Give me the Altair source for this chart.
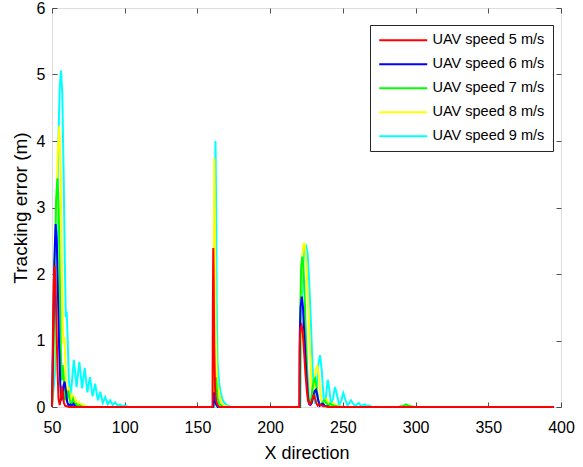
import altair as alt
import pandas as pd

FONT = "Liberation Sans, Arial, sans-serif"

SERIES = ["UAV speed 5 m/s", "UAV speed 6 m/s", "UAV speed 7 m/s",
          "UAV speed 8 m/s", "UAV speed 9 m/s"]
COLORS = ["#FF0000", "#0000FF", "#00FF00", "#FFFF00", "#00FFFF"]

X_TICKS = [50, 100, 150, 200, 250, 300, 350, 400]
Y_TICKS = [0, 1, 2, 3, 4, 5, 6]

RED_X = [50, 50.6, 51.2, 51.8, 52.4, 53.1, 53.8, 54.5, 55.3, 56.0,
         56.7, 57.4, 58.2, 59.0, 60.0, 62.0,
         160.4, 160.6, 160.9, 161.2, 161.6, 162.1, 162.8, 163.8, 165.0,
         220.1, 220.3, 220.8, 221.7, 222.5, 223.4, 224.3, 225.2, 226.0, 226.8,
         227.6, 228.5, 229.4, 230.2, 231.0, 231.9, 232.8, 233.8, 235.0, 236.5,
         238.0, 240.0, 395.0]
RED_Y = [0, 1.0, 1.9, 2.13, 1.85, 1.2, 0.55, 0.12, 0.03, 0.12,
         0.31, 0.22, 0.06, 0.02, 0.01, 0,
         0, 1.5, 2.39, 1.9, 0.9, 0.3, 0.1, 0.03, 0,
         0, 0.9, 1.18, 1.23, 1.1, 0.8, 0.5, 0.25, 0.1, 0.05,
         0.04, 0.08, 0.15, 0.18, 0.12, 0.05, 0.02, 0.04, 0.03, 0.01,
         0.01, 0, 0]

BLUE_X = [50, 50.8, 51.6, 52.5, 53.3, 54.1, 54.9, 55.7, 56.4, 57.1,
          57.9, 58.7, 59.5, 60.4, 61.4, 62.5, 63.6, 64.8, 66.0, 67.5,
          160.8, 161.1, 161.5, 161.9, 162.4, 163.0, 164.0,
          220.2, 220.4, 220.9, 221.8, 222.6, 223.5, 224.4, 225.3, 226.1, 226.9,
          227.7, 228.6, 229.6, 230.6, 231.5, 232.4, 233.3, 234.2, 235.2, 236.3,
          237.5, 239.0, 241.0, 395.0]
BLUE_Y = [0, 1.0, 2.2, 2.75, 2.5, 1.7, 0.9, 0.35, 0.1, 0.15,
          0.32, 0.38, 0.25, 0.08, 0.02, 0.04, 0.02, 0.05, 0.01, 0,
          0, 0.1, 0.22, 0.15, 0.07, 0.03, 0,
          0, 1.1, 1.5, 1.66, 1.5, 1.1, 0.7, 0.35, 0.12, 0.04,
          0.03, 0.06, 0.15, 0.24, 0.26, 0.18, 0.08, 0.02, 0.04, 0.05,
          0.02, 0.01, 0, 0]

GREEN_X = [50, 50.8, 51.8, 52.8, 53.7, 54.6, 55.4, 56.1, 56.7, 57.3,
           58.1, 59.0, 60.1, 61.2, 62.3, 63.4, 64.5, 65.6, 66.7, 67.8,
           69.0, 70.2, 72.0,
           161.0, 161.5, 162.0, 162.6, 163.2, 164.0, 165.0, 166.5, 168.0,
           220.5, 220.8, 221.3, 222.1, 222.9, 223.8, 224.7, 225.6, 226.5, 227.4,
           228.2, 229.1, 230.0, 230.9, 231.9, 232.9, 233.9, 235.0, 236.2, 237.5,
           238.8, 240.0, 241.2, 242.5, 244.0, 246.0, 250.0,
           288.0, 291.0, 293.5, 296.0, 299.0, 395.0]
GREEN_Y = [0, 0.6, 2.0, 3.1, 3.44, 3.0, 1.9, 0.8, 0.4, 0.63,
           0.45, 0.12, 0.1, 0.25, 0.08, 0.04, 0.12, 0.03, 0.05, 0.01,
           0.03, 0.01, 0,
           0, 0.05, 0.3, 0.45, 0.3, 0.12, 0.05, 0.02, 0,
           0, 1.5, 2.1, 2.26, 2.1, 1.6, 1.0, 0.5, 0.15, 0.04,
           0.1, 0.28, 0.4, 0.43, 0.3, 0.12, 0.04, 0.03, 0.08, 0.1,
           0.06, 0.02, 0.05, 0.03, 0.02, 0.01, 0,
           0, 0.01, 0.04, 0.01, 0, 0]

YELLOW_X = [50, 51.5, 52.8, 53.9, 55.0, 56.0, 56.8, 57.5, 58.0, 58.6,
            59.4, 60.3, 61.5, 62.6, 63.8, 65.0, 66.2, 67.5, 68.7, 70.0,
            71.5, 73.0, 75.0,
            160.9, 161.2, 161.6, 162.0, 162.5, 163.2, 164.0, 165.0, 166.0, 167.0,
            168.5, 170.0, 172.0,
            220.6, 221.0, 221.8, 222.7, 223.5, 224.3, 225.2, 226.2, 227.3, 228.3,
            229.3, 230.2, 231.2, 232.5, 233.8, 235.0, 236.3, 237.6, 239.0, 240.5,
            242.0, 243.5, 245.0, 247.0, 250.0,
            288.0, 291.0, 293.5, 296.0, 299.0, 395.0]
YELLOW_Y = [0, 0.8, 2.6, 3.8, 4.22, 3.5, 2.2, 1.2, 0.95, 1.05,
            0.5, 0.1, 0.3, 0.08, 0.2, 0.04, 0.12, 0.02, 0.07, 0.01,
            0.04, 0.01, 0,
            0, 1.8, 3.74, 2.8, 1.2, 0.5, 0.32, 0.2, 0.1, 0.05,
            0.02, 0.01, 0,
            0, 1.5, 2.2, 2.42, 2.47, 2.35, 2.0, 1.5, 0.9, 0.4,
            0.1, 0.25, 0.55, 0.63, 0.4, 0.12, 0.04, 0.1, 0.12, 0.05,
            0.03, 0.06, 0.02, 0.02, 0,
            0, 0.01, 0.03, 0.01, 0, 0]

CYAN_X = [50, 52.0, 53.2, 54.3, 55.3, 56.2, 57.1, 58.0, 58.8, 59.5,
          60.1, 60.8, 61.6, 62.6, 63.8, 65.0, 66.9, 68.8, 70.7, 72.5,
          74.3, 76.1, 77.9, 79.7, 81.5, 83.2, 84.9, 86.6, 88.3, 90.0,
          91.7, 93.4, 95.1, 96.8, 98.4, 100.0, 102.0, 104.0,
          161.3, 161.8, 162.4, 162.9, 163.3, 163.8, 164.4, 165.0, 166.0, 167.0,
          168.0, 169.5, 171.0, 173.0,
          220.8, 221.4, 222.3, 223.4, 224.7, 225.8, 226.8, 227.8, 228.8, 229.8,
          230.8, 232.0, 233.2, 234.3, 235.5, 236.7, 237.9, 238.8, 239.6, 240.6,
          241.8, 243.2, 244.6, 245.8, 247.5, 249.0, 250.3, 251.6, 253.2, 254.5,
          255.6, 256.8, 258.4, 259.8, 261.0, 262.5, 264.0, 265.2, 266.5, 268.0,
          270.0, 275.0,
          288.0, 291.0, 293.5, 296.0, 299.0, 395.0]
CYAN_Y = [0, 0.5, 2.2, 3.9, 4.8, 5.06, 4.7, 3.5, 2.2, 1.35,
          1.43, 1.0, 0.4, 0.15, 0.4, 0.71, 0.3, 0.68, 0.28, 0.59,
          0.22, 0.45, 0.16, 0.35, 0.1, 0.23, 0.06, 0.15, 0.04, 0.1,
          0.03, 0.07, 0.02, 0.04, 0.01, 0.02, 0.005, 0,
          0, 2.5, 4.0, 3.0, 1.5, 0.7, 0.5, 0.35, 0.22, 0.13,
          0.08, 0.04, 0.02, 0,
          0, 1.2, 2.0, 2.35, 2.44, 2.3, 1.9, 1.4, 0.8, 0.3,
          0.05, 0.3, 0.65, 0.78, 0.55, 0.15, 0.05, 0.25, 0.41, 0.28,
          0.05, 0.12, 0.3, 0.2, 0.03, 0.1, 0.21, 0.12, 0.02, 0.06,
          0.1, 0.06, 0.01, 0.04, 0.06, 0.01, 0.03, 0.04, 0.01, 0.02,
          0, 0,
          0, 0.01, 0.02, 0.01, 0, 0]

ALL_X = [RED_X, BLUE_X, GREEN_X, YELLOW_X, CYAN_X]
ALL_Y = [RED_Y, BLUE_Y, GREEN_Y, YELLOW_Y, CYAN_Y]

frames = []
for name, xs, ys in zip(SERIES, ALL_X, ALL_Y):
    frames.append(pd.DataFrame({"x": xs, "y": ys, "series": name,
                                "i": range(len(xs))}))
df = pd.concat(frames, ignore_index=True)

x_enc = alt.X("x:Q", scale=alt.Scale(domain=[50, 400], nice=False, zero=False),
              axis=alt.Axis(values=X_TICKS, title="X direction", grid=True,
                            gridDash=[5, 389, 5, 1000], gridColor="#262626",
                            gridWidth=0.8, gridOpacity=1, ticks=False, tickSize=0,
                            domain=False, labelFontSize=16, labelFont=FONT,
                            labelColor="black", labelPadding=12, labelFlush=False,
                            titleFontSize=18, titleFont=FONT, titleColor="black",
                            titleFontWeight="normal", titlePadding=9))
y_enc = alt.Y("y:Q", scale=alt.Scale(domain=[0, 6], nice=False),
              axis=alt.Axis(values=Y_TICKS, title="Tracking error (m)", grid=True,
                            gridDash=[5, 499, 5, 1000], gridColor="#262626",
                            gridWidth=0.8, gridOpacity=1, ticks=False, tickSize=0,
                            domain=False, labelFontSize=16, labelFont=FONT,
                            labelColor="black", labelPadding=7, labelFlush=False,
                            titleFontSize=19, titleFont=FONT, titleColor="black",
                            titleFontWeight="normal", titlePadding=6))
color_enc = alt.Color("series:N", scale=alt.Scale(domain=SERIES, range=COLORS),
                      title=None,
                      legend=alt.Legend(orient="none", legendX=318, legendY=17,
                                        direction="vertical", strokeColor="#262626",
                                        fillColor="white", padding=8,
                                        symbolType="M-1,0H7", symbolSize=144,
                                        symbolStrokeWidth=2, labelOffset=40,
                                        rowPadding=9, labelFontSize=14.5,
                                        labelFont=FONT, labelColor="black",
                                        labelLimit=300))

base = alt.Chart(df).encode(x=x_enc, y=y_enc, color=color_enc, order="i:Q")

layers = []
for name in reversed(SERIES):
    layers.append(base.transform_filter(alt.datum.series == name)
                  .mark_line(strokeWidth=2))

chart = alt.layer(*layers).properties(
    width=509, height=399, autosize="none",
    padding={"left": 52, "top": 8, "right": 22, "bottom": 60},
).configure_view(stroke="#262626", strokeWidth=1).configure(background="white")

chart.save("out.html", embed_options={"renderer": "svg", "actions": False})
